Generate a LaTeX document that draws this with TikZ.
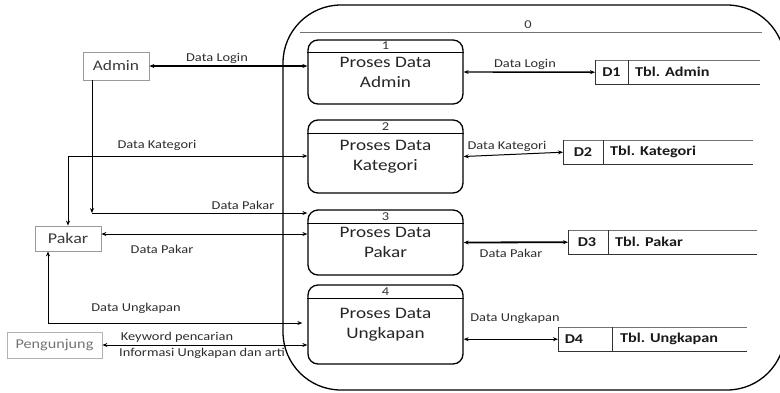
\documentclass[tikz,border=0pt]{standalone}
\usepackage{fontspec}
\setmainfont[FakeStretch=1.2]{Carlito}
\usetikzlibrary{arrows.meta}
\definecolor{entgray}{HTML}{9A9A9A}
\definecolor{enttext}{HTML}{3A3A3A}
\definecolor{labtext}{HTML}{2E2E2E}
\begin{document}
\begin{tikzpicture}[x=1pt,y=-1pt,
  proc/.style={draw, line width=1.3pt, rounded corners=10pt, minimum width=155pt, align=center,
    font=\fontsize{16}{20}\selectfont, text=black!85, inner sep=0pt},
  num/.style={font=\fontsize{12}{13}\selectfont, inner sep=0pt, text=black!80},
  ent/.style={draw=entgray, line width=0.8pt, inner sep=0pt, text=enttext},
  lab/.style={font=\fontsize{12}{13}\selectfont, inner sep=0pt, text=labtext},
  storetxt/.style={font=\bfseries\fontsize{13.5}{15}\selectfont, inner sep=0pt, text=black!90},
  flow/.style={line width=1pt, {Stealth[length=5pt,width=4pt]}-{Stealth[length=5pt,width=4pt]}},
  oneway/.style={line width=1pt, -{Stealth[length=5pt,width=4pt]}},
  stline/.style={line width=0.9pt, draw=black!55},
  stbottom/.style={line width=1.4pt, draw=black!80},
  stvert/.style={line width=0.9pt, draw=black!80}
]
\useasboundingbox (0,0) rectangle (780,392);

% context boundary
\node[draw, line width=1.3pt, rounded corners=58pt, minimum width=502pt, minimum height=385pt, inner sep=0pt] (ctx) at (534,197.5) {};
\coordinate (z1) at (300,32);
\coordinate (z2) at (762,32);
\draw[line width=1pt, draw=black!55] (z1) -- (z2);
\node[num] (zero) at (528,25) {0};

% processes
\node[proc, minimum height=64pt] (p1) at (385.5,72) {Proses Data\\Admin};
\node[proc, minimum height=73pt] (p2) at (385.5,156.5) {Proses Data\\Kategori};
\node[proc, minimum height=65pt] (p3) at (385.5,242.5) {Proses Data\\Pakar};
\node[proc, minimum height=79pt] (p4) at (385.5,324.5) {Proses Data\\Ungkapan};
\draw[line width=1pt] (p1.west |- 0,52) -- (p1.east |- 0,52);
\draw[line width=1pt] (p2.west |- 0,133) -- (p2.east |- 0,133);
\draw[line width=1pt] (p3.west |- 0,223) -- (p3.east |- 0,223);
\draw[line width=1pt] (p4.west |- 0,298) -- (p4.east |- 0,298);
\node[num] (n1) at (385.5,46) {1};
\node[num] (n2) at (385.5,127) {2};
\node[num] (n3) at (385.5,217) {3};
\node[num] (n4) at (385.5,292) {4};

% data stores
\node[inner sep=0pt, minimum width=165pt, minimum height=24pt, anchor=north west] (d1) at (595,60) {};
\node[inner sep=0pt, minimum width=190pt, minimum height=24pt, anchor=north west] (d2) at (563,140) {};
\node[inner sep=0pt, minimum width=189pt, minimum height=24pt, anchor=north west] (d3) at (568,230) {};
\node[inner sep=0pt, minimum width=189pt, minimum height=24pt, anchor=north west] (d4) at (558,327) {};
\foreach \d/\x in {d1/628, d2/603, d3/608, d4/612} {
  \draw[stline] (\d.north west) -- (\d.north east);
  \draw[stbottom] (\d.south west) -- (\d.south east);
  \draw[stvert] (\d.north west) -- (\d.south west);
  \draw[stvert] (\d.north west -| \x,0) -- (\d.south west -| \x,0);
}
\node[storetxt] (d1id) at (611.5,72) {D1};
\node[storetxt, anchor=west] (d1nm) at (635,72) {Tbl. Admin};
\node[storetxt] (d2id) at (583,152) {D2};
\node[storetxt, anchor=west] (d2nm) at (610,152) {Tbl. Kategori};
\node[storetxt] (d3id) at (587,242) {D3};
\node[storetxt, anchor=west] (d3nm) at (615,242) {Tbl. Pakar};
\node[storetxt] (d4id) at (574,339) {D4};
\node[storetxt, anchor=west] (d4nm) at (620,339) {Tbl. Ungkapan};

% external entities
\node[ent, minimum width=66pt, minimum height=28pt, font=\fontsize{14.5}{16}\selectfont] (adm) at (116,66) {Admin};
\node[ent, minimum width=66pt, minimum height=25pt, font=\fontsize{15}{16}\selectfont] (pak) at (68,238.5) {Pakar};
\node[ent, minimum width=95pt, minimum height=26pt, font=\fontsize{13.5}{15}\selectfont, text=black!55, draw=black!30] (pen) at (54.5,345) {Pengunjung};

% flows: processes <-> stores
\draw[flow, line width=1.4pt] (p1.east) -- (d1.west);
\draw[flow] (p2.east) -- (d2.west);
\draw[flow, line width=1.8pt] (p3.east) -- (d3.west);
\draw[flow] (p4.east |- d4.west) -- (d4.west);

% flows: entities <-> processes
\draw[flow, line width=1.4pt] (adm.east) -- (adm.east -| p1.west);
\coordinate (k1) at (68,156);
\draw[flow] (pak.north) -- (k1) -- (k1 -| p2.west);
\coordinate (a1) at (92,213);
\draw[oneway] (a1 |- adm.south) -- (a1);
\draw[oneway] (a1) -- (a1 -| p3.west);
\draw[flow] (pak.east |- 0,234) -- (p3.west |- 0,234);
\coordinate (u1) at (48,323);
\draw[flow] (pak.south -| u1) -- (u1) -- ([xshift=-5pt]u1 -| p4.west);
\draw[flow] (pen.east) -- (pen.east -| p4.west);

% labels
\node[lab] (l1) at (217,58) {Data Login};
\node[lab] (l2) at (525,64) {Data Login};
\node[lab] (l3) at (157,145) {Data Kategori};
\node[lab] (l4) at (507,146) {Data Kategori};
\node[lab] (l5) at (243,205) {Data Pakar};
\node[lab] (l6) at (162,249) {Data Pakar};
\node[lab] (l7) at (511,253) {Data Pakar};
\node[lab] (l8) at (136,308) {Data Ungkapan};
\node[lab] (l9) at (515,318) {Data Ungkapan};
\node[lab] (l10) at (177,337) {Keyword pencarian};
\node[lab, anchor=west] (l11) at (119,353) {Informasi Ungkapan dan arti};
\end{tikzpicture}
\end{document}
